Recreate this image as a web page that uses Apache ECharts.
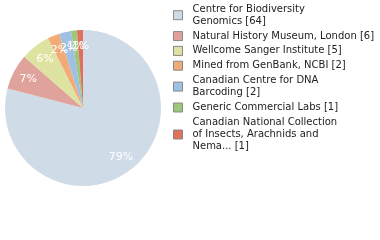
<!DOCTYPE html>
<html><head><meta charset="utf-8">
<script src="https://cdn.jsdelivr.net/npm/echarts@6/dist/echarts.min.js"></script>
<style>html,body{margin:0;padding:0;background:#fff}#c{width:380px;height:240px}</style>
</head><body><div id="c"></div>
<script>
const categories = [
  "Centre for Biodiversity Genomics",
  "Natural History Museum, London",
  "Wellcome Sanger Institute",
  "Mined from GenBank, NCBI",
  "Canadian Centre for DNA Barcoding",
  "Generic Commercial Labs",
  "Canadian National Collection of Insects, Arachnids and Nema..."
];
const values = [64, 6, 5, 2, 2, 1, 1];
const legendLabels = [
  "Centre for Biodiversity\nGenomics",
  "Natural History Museum, London",
  "Wellcome Sanger Institute",
  "Mined from GenBank, NCBI",
  "Canadian Centre for DNA\nBarcoding",
  "Generic Commercial Labs",
  "Canadian National Collection\nof Insects, Arachnids and\nNema..."
];
const colors = ["#cfdbe7", "#e0a39b", "#dfe3a1", "#f2ab77", "#9fbfe3", "#9cc87a", "#e0705a"];

const total = values.reduce((a, b) => a + b, 0);
const data = categories.map((n, i) => ({ name: n, value: values[i], itemStyle: { color: colors[i] } }));
const chart = echarts.init(document.getElementById('c'));
chart.setOption({
  animation: false,
  legend: {
    orient: 'vertical', left: 173, top: 3, padding: 0,
    itemWidth: 9, itemHeight: 9, itemGap: 2.6, icon: 'rect',
    itemStyle: { borderColor: '#888', borderWidth: 1 },
    textStyle: { fontFamily: 'DejaVu Sans', fontSize: 10, color: '#222', lineHeight: 12.2, padding: [0, 0, 0, 5] },
    formatter: function (name) {
      const i = categories.indexOf(name);
      return legendLabels[i] + ' [' + values[i] + ']';
    },
    data: categories
  },
  series: [{
    type: 'pie', center: [83, 108], radius: [0, 78], clockwise: true, startAngle: 90,
    label: { show: false }, labelLine: { show: false }, silent: true,
    itemStyle: { borderWidth: 0 },
    data: data
  }, {
    type: 'pie', center: [83, 108], radius: [40, 78], clockwise: true, startAngle: 90,
    silent: true, legendHoverLink: false, avoidLabelOverlap: false,
    labelLayout: { hideOverlap: false },
    itemStyle: { color: 'rgba(0,0,0,0)', borderWidth: 0 },
    label: {
      show: true, position: 'inside', color: '#fff', fontFamily: 'DejaVu Sans', fontSize: 11,
      formatter: p => Math.round(p.value / total * 100) + '%'
    },
    labelLine: { show: false },
    data: categories.map((n, i) => ({ name: n, value: values[i] }))
  }]
});
</script></body></html>
